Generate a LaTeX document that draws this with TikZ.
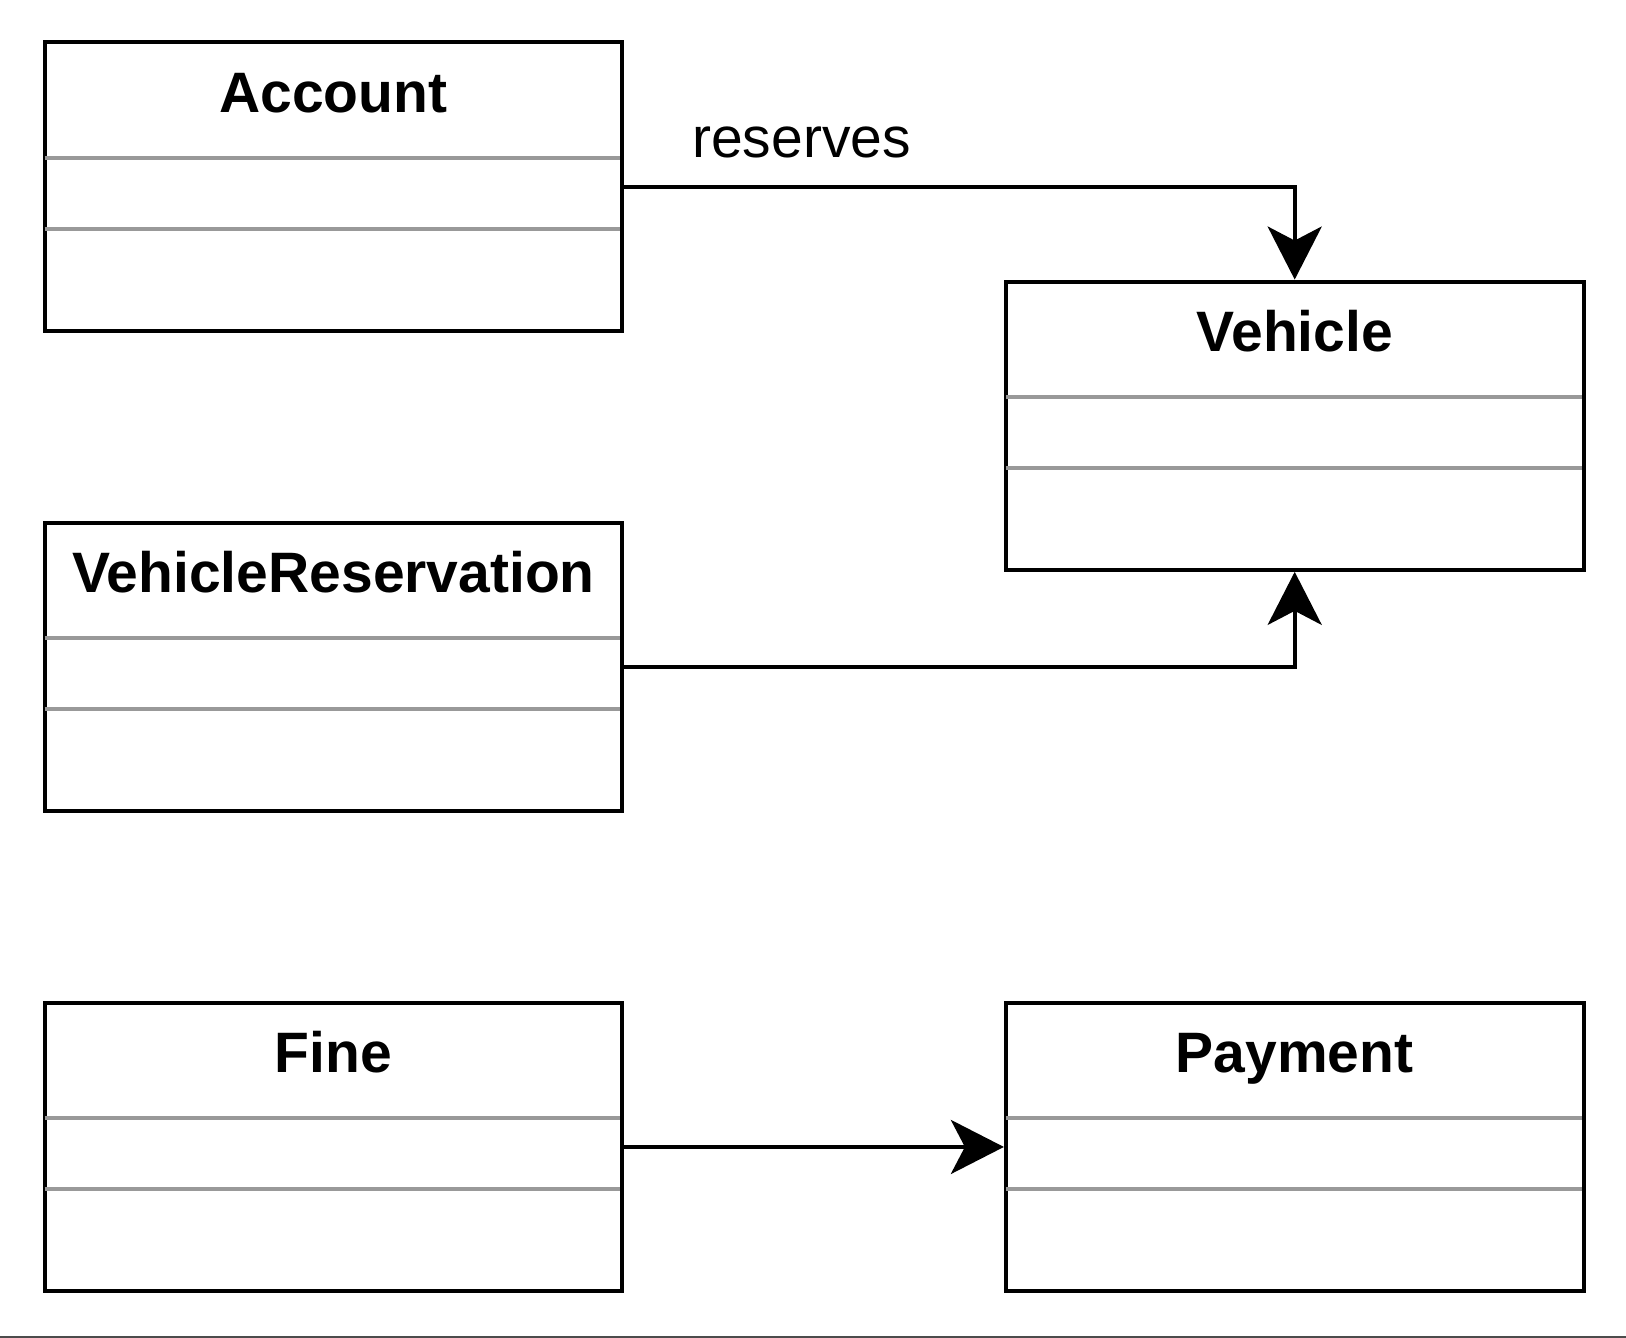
\documentclass[tikz,border=0pt]{standalone}
\usepackage{fontspec}
\setmainfont{Liberation Sans}
\usetikzlibrary{arrows.meta}
\begin{document}
\begin{tikzpicture}[x=1pt,y=-1pt,
  classbox/.style={draw=black, line width=4pt, minimum width=577.6pt, minimum height=288.3pt, inner sep=0pt, fill=white},
  classtitle/.style={anchor=base, font=\fontsize{57}{68}\selectfont\bfseries, inner sep=0pt},
  sepline/.style={draw=black!40, line width=4pt},
  conn/.style={draw=black, line width=4pt, -{Stealth[length=53pt,width=54pt,inset=14pt]}},
  lbl/.style={font=\fontsize{57}{68}\selectfont, inner sep=0pt}]
\useasboundingbox[fill=white] (0,0) rectangle (1626,1338);
\draw[line width=1.5pt, black!70] (0,1337) -- (1626,1337);
% classes
\foreach \nm/\cx/\cy/\txt in {acc/333.4/186.65/Account, veh/1294.7/425.7/Vehicle, vr/333.4/666.8/VehicleReservation, fine/333.4/1146.95/Fine, pay/1294.7/1146.95/Payment}{
  \node[classbox] (\nm) at (\cx,\cy) {};
  \node[classtitle] (\nm-t) at ([yshift=-71.5pt]\nm.north) {\txt};
  \draw[sepline] ([xshift=2pt,yshift=-117pt]\nm.north west) -- ([xshift=-4pt,yshift=-117pt]\nm.north east);
  \draw[sepline] ([xshift=2pt,yshift=-188.5pt]\nm.north west) -- ([xshift=-4pt,yshift=-188.5pt]\nm.north east);
}
% connectors
\draw[conn] (acc.east) -| (veh.north);
\node[lbl] (res) at (801.6,142) {reserves};
\draw[conn] (vr.east) -| (veh.south);
\draw[conn] (fine.east) -- (pay.west);
\end{tikzpicture}
\end{document}
